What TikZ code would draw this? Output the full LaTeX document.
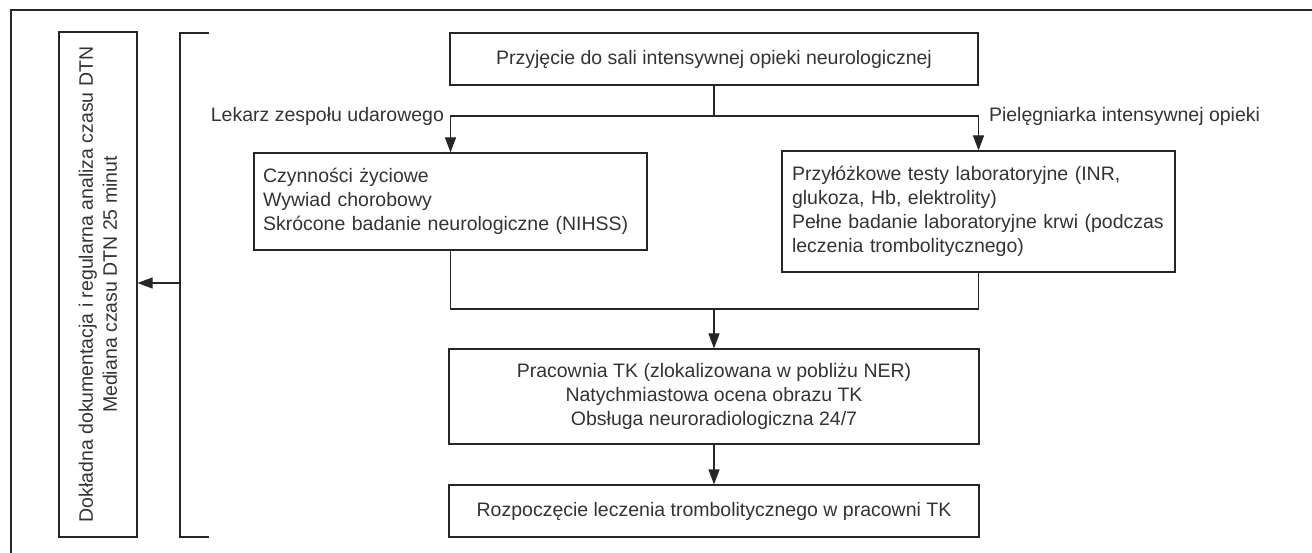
\documentclass[tikz,border=0pt]{standalone}
\usepackage{fontspec}
\setmainfont{Liberation Sans}
\usetikzlibrary{arrows.meta}

\begin{document}
\begin{tikzpicture}[x=1pt,y=-1pt,line width=1.1pt,draw=black!85,
    every node/.style={font=\fontsize{19.5}{24}\selectfont,text=black!80},
    box/.style={draw,inner sep=0pt,align=center},
    lbox/.style={draw,inner sep=9pt,align=left},
    >={Triangle[length=15pt,width=11pt]}]
    \useasboundingbox (0,0) rectangle (1312,553);
    \draw (11,553) -- (11,10) -- (1312,10);
    \node (DTN) at (98,284.5) [box,rotate=90,minimum width=505pt,minimum height=78pt] {Dokładna dokumentacja i regularna analiza czasu DTN\\Mediana czasu DTN 25 minut};
    \node (PRZ) at (714,59) [box,minimum width=528pt,minimum height=52pt] {Przyjęcie do sali intensywnej opieki neurologicznej};
    \node (LEK) at (450.5,201.5) [lbox,text width=375pt,minimum height=97pt] {Czynności życiowe\\Wywiad chorobowy\\Skrócone badanie neurologiczne (NIHSS)};
    \node (PIE) at (978.5,211.5) [lbox,inner sep=10pt,text width=373pt,minimum height=121pt] {Przyłóżkowe testy laboratoryjne (INR,\\glukoza, Hb, elektrolity)\\Pełne badanie laboratoryjne krwi (podczas\\leczenia trombolitycznego)};
    \node (PRA) at (714,396.5) [box,minimum width=530pt,minimum height=95pt] {Pracownia TK (zlokalizowana w pobliżu NER)\\Natychmiastowa ocena obrazu TK\\Obsługa neuroradiologiczna 24/7};
    \node (ROZ) at (714,511) [box,minimum width=530pt,minimum height=52pt] {Rozpoczęcie leczenia trombolitycznego w pracowni TK};
    \coordinate (S) at (714,116);
    \coordinate (J) at (714,309);
    \coordinate (B) at (180,283);
    \draw (PRZ) -- (S);
    \draw[->] (S) -| node [pos=0.5,left,inner sep=6pt] {Lekarz zespołu udarowego} (LEK);
    \draw[->] (S) -| node [pos=0.5,right,inner sep=10pt] {Pielęgniarka intensywnej opieki} (PIE);
    \draw (LEK) |- (J) -| (PIE);
    \draw[->] (J) -- (PRA);
    \draw[->] (PRA) -- (ROZ);
    % klamra
    \draw (209,33) -- (180,33) -- (180,537) -- (209,537);
    \draw[->] (B) -- (B -| DTN.south);
\end{tikzpicture}
\end{document}
